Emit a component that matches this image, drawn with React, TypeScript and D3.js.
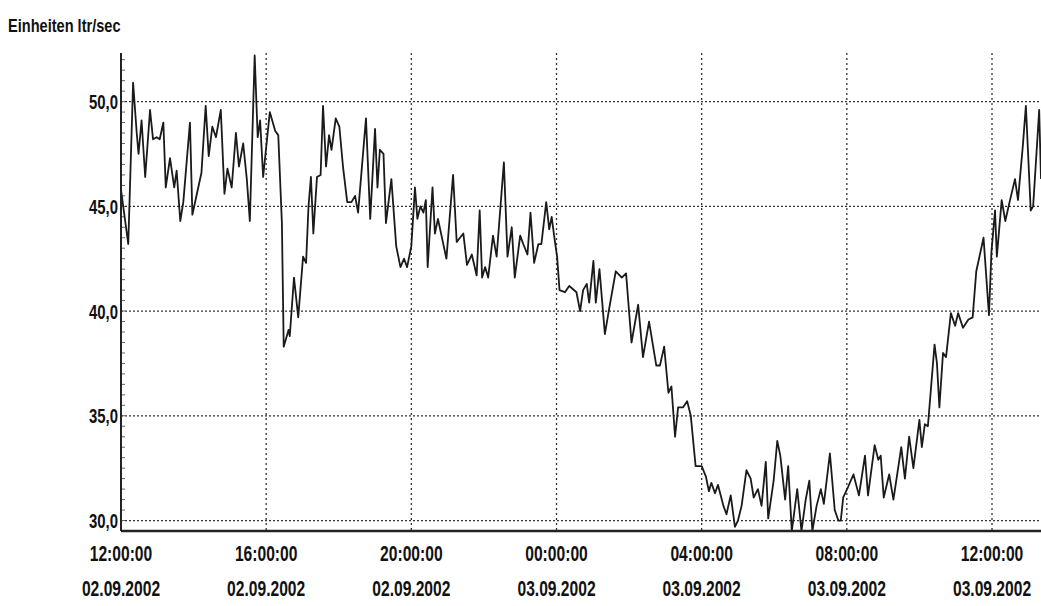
import React from 'react';
import * as d3 from 'd3';

// Minutes after 02.09.2002 12:00:00
const minutes = [
  0, 12, 20, 26, 29, 34, 40, 48, 53, 59, 64, 70, 74, 81, 88, 92, 98, 103, 114, 118,
  133, 140, 145, 151, 157, 165, 171, 176, 183, 190, 195, 202, 208, 213, 221, 226, 230, 235, 246, 255,
  260, 266, 269, 277, 279, 286, 293, 301, 306, 310, 314, 318, 324, 330, 334, 339, 344, 348, 355, 361,
  367, 374, 381, 387, 392, 405, 412, 420, 424, 428, 434, 438, 447, 455, 462, 468, 473, 480, 486, 490,
  495, 500, 504, 507, 515, 519, 524, 538, 549, 555, 566, 572, 580, 588, 593, 597, 602, 607, 615, 621,
  633, 639, 646, 651, 660, 665, 672, 677, 683, 690, 695, 703, 708, 712, 717, 721, 725, 734, 741, 745,
  753, 759, 764, 770, 774, 781, 785, 791, 800, 807, 818, 828, 835, 844, 855, 863, 873, 885, 891, 898,
  905, 910, 916, 921, 929, 936, 942, 950, 960, 967, 972, 976, 982, 987, 996, 1001, 1008, 1015, 1020, 1026,
  1034, 1041, 1046, 1053, 1059, 1066, 1070, 1079, 1085, 1090, 1098, 1103, 1109, 1118, 1125, 1132, 1138, 1143, 1150, 1157,
  1162, 1172, 1180, 1186, 1190, 1194, 1202, 1211, 1220, 1230, 1235, 1246, 1252, 1256, 1261, 1270, 1277, 1290, 1296, 1303,
  1310, 1320, 1324, 1329, 1334, 1345, 1349, 1353, 1359, 1364, 1372, 1379, 1384, 1392, 1401, 1408, 1414, 1426, 1435, 1439,
  1445, 1448, 1456, 1462, 1469, 1478, 1483, 1491, 1496, 1504, 1508, 1518, 1521,
];

// Flow, ltr/sec
const flow = [
  45.8, 43.2, 50.9, 48.5, 47.5, 49.1, 46.4, 49.6, 48.2, 48.3, 48.2, 49.0, 45.9, 47.3, 45.9, 46.7, 44.3, 45.2, 49.0, 44.6,
  46.6, 49.8, 47.4, 48.8, 48.3, 49.6, 45.6, 46.8, 45.9, 48.5, 46.9, 48.0, 46.3, 44.3, 52.2, 48.3, 49.1, 46.4, 49.5, 48.6,
  48.4, 44.2, 38.3, 39.1, 38.8, 41.6, 39.7, 42.6, 42.3, 45.0, 46.4, 43.7, 46.4, 46.5, 49.8, 46.9, 48.4, 47.7, 49.2, 48.8,
  46.9, 45.2, 45.2, 45.5, 44.7, 49.2, 44.4, 48.7, 45.9, 47.7, 47.5, 44.2, 46.3, 43.1, 42.1, 42.5, 42.1, 43.1, 45.9, 44.4,
  45.0, 44.7, 45.3, 42.1, 45.9, 43.7, 44.4, 42.5, 46.5, 43.3, 43.7, 42.2, 42.7, 41.7, 44.8, 41.6, 42.1, 41.6, 43.6, 42.6,
  47.1, 42.6, 44.0, 41.6, 43.6, 43.2, 42.7, 44.7, 42.3, 43.2, 43.2, 45.2, 43.9, 44.5, 43.4, 42.6, 41.0, 40.9, 41.2, 41.1,
  40.9, 40.0, 41.0, 41.3, 40.4, 42.4, 40.4, 42.0, 38.9, 40.1, 41.9, 41.6, 41.8, 38.5, 40.3, 37.8, 39.5, 37.4, 37.4, 38.3,
  36.1, 36.4, 34.0, 35.4, 35.4, 35.7, 35.0, 32.6, 32.6, 32.1, 31.4, 31.8, 31.3, 31.7, 30.7, 30.3, 31.2, 29.7, 30.0, 30.7,
  32.4, 32.0, 31.1, 31.5, 30.7, 32.8, 30.1, 31.9, 33.8, 33.1, 31.0, 32.6, 29.5, 31.5, 29.5, 31.0, 31.9, 29.5, 30.7, 31.5,
  30.8, 33.2, 30.5, 30.0, 30.0, 31.1, 31.6, 32.2, 31.2, 33.1, 31.2, 33.6, 32.9, 33.1, 31.1, 32.2, 31.0, 33.5, 32.0, 34.0,
  32.5, 34.8, 33.5, 34.6, 34.5, 38.4, 37.5, 35.4, 38.0, 37.8, 39.9, 39.3, 39.9, 39.2, 39.6, 39.7, 41.9, 43.5, 39.8, 42.8,
  44.8, 42.6, 45.3, 44.3, 45.2, 46.3, 45.3, 47.9, 49.8, 44.8, 45.0, 49.6, 46.3,
];

const yTicks = [30, 35, 40, 45, 50];
const yLabel = 'Einheiten ltr/sec';

const start = new Date(2002, 8, 2, 12, 0, 0);
const end = d3.timeMinute.offset(start, 1521);

const W = 1041;
const H = 606;
const m = { left: 121, right: 1041, top: 53, bottom: 531 };
const font = '"Liberation Sans", Arial, sans-serif';
const squeeze = 0.71; // the scan's lettering is a condensed bold face

export default function App() {
  const x = d3.scaleTime().domain([start, end]).range([m.left, m.right]);
  const y = d3.scaleLinear().domain([29.5, 52.32]).range([m.bottom, m.top]);

  const pts = minutes.map((mm, i) => ({ t: d3.timeMinute.offset(start, mm), v: flow[i] }));
  const line = d3.line<any>().x(d => x(d.t)).y(d => y(d.v));

  const xTicks = x.ticks(d3.timeHour.every(4) as any);
  const fmtTime = d3.timeFormat('%H:%M:%S');
  const fmtDate = d3.timeFormat('%d.%m.%Y');
  const fmtY = (v: number) => d3.format('.1f')(v).replace('.', ',');
  const minor = d3.range(30, 52.01, 0.5);

  const txt = { fontFamily: font, fontWeight: 'bold' as const, fill: '#111' };

  return (
    <svg width={W} height={H} style={{ position: 'absolute', left: 0, top: 0, background: '#fff' }}>
      <defs>
        <clipPath id="plot">
          <rect x={m.left} y={m.top - 2} width={m.right - m.left} height={m.bottom - m.top + 2} />
        </clipPath>
      </defs>

      <g transform="translate(8,32) scale(0.81,1)">
        <text fontSize={18} {...txt}>{yLabel}</text>
      </g>

      {/* horizontal grid */}
      {yTicks.map(t => (
        <line key={'h' + t} x1={m.left} x2={m.right} y1={y(t)} y2={y(t)}
          stroke="#333" strokeWidth={1.3} strokeDasharray="2,2" />
      ))}
      {/* vertical grid */}
      {xTicks.map(t => (
        <line key={'v' + t.getTime()} x1={x(t)} x2={x(t)} y1={m.top} y2={m.bottom}
          stroke="#333" strokeWidth={1.3} strokeDasharray="2,3" />
      ))}

      {/* y minor ticks */}
      {minor.map(t => (
        <line key={'mi' + t} x1={m.left + 1} x2={m.left + 4} y1={y(t)} y2={y(t)} stroke="#666" strokeWidth={1} />
      ))}

      <path d={line(pts) || ''} fill="none" stroke="#1a1a1a" strokeWidth={1.8}
        strokeLinejoin="round" clipPath="url(#plot)" />

      {/* axes */}
      <line x1={m.left} x2={m.left} y1={m.top} y2={m.bottom} stroke="#222" strokeWidth={2} />
      <line x1={m.left} x2={m.right} y1={m.bottom} y2={m.bottom} stroke="#222" strokeWidth={2.5} />

      {yTicks.map(t => (
        <g key={'yl' + t} transform={`translate(${m.left - 3},${y(t)}) scale(${squeeze},1)`}>
          <text dy="0.36em" textAnchor="end" fontSize={21} {...txt}>{fmtY(t)}</text>
        </g>
      ))}

      {xTicks.map(t => (
        <g key={'xl' + t.getTime()} transform={`translate(${x(t)},0) scale(${squeeze},1)`}>
          <text y={561} textAnchor="middle" fontSize={22} {...txt}>{fmtTime(t)}</text>
          <text y={596} textAnchor="middle" fontSize={22} {...txt}>{fmtDate(t)}</text>
        </g>
      ))}
    </svg>
  );
}
